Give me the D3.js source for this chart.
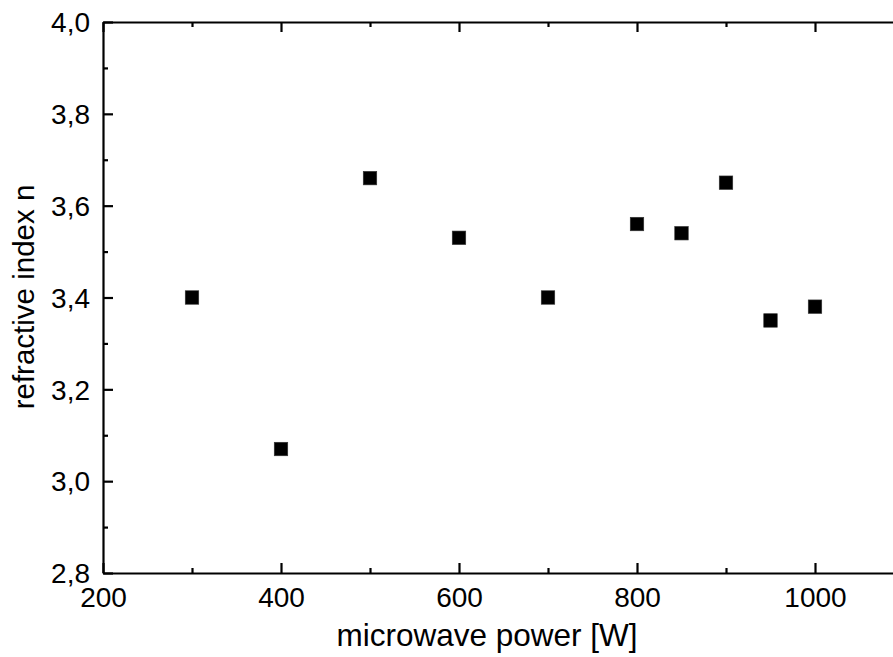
<!DOCTYPE html>
<html>
<head>
<meta charset="utf-8">
<script src="https://cdn.jsdelivr.net/npm/d3@7"></script>
<style>
  body { margin: 0; background: #fff; overflow: hidden; }
  text { font-family: "Liberation Sans", Arial, sans-serif; fill: #000; }
</style>
</head>
<body>
<div id="chart"></div>
<script>
// Data
const power = [300, 400, 500, 600, 700, 800, 850, 900, 950, 1000];
const refIndex = [3.40, 3.07, 3.66, 3.53, 3.40, 3.56, 3.54, 3.65, 3.35, 3.38];
const xTicks = [200, 400, 600, 800, 1000];
const yTicks = [2.8, 3.0, 3.2, 3.4, 3.6, 3.8, 4.0];

const width = 893;
const height = 657;

const svg = d3.select("#chart").append("svg")
    .attr("width", width)
    .attr("height", height);

// plot area (right edge runs past the window, as in the reference)
const plotLeft = 103, plotRight = 904, plotTop = 22, plotBottom = 573;

const x = d3.scaleLinear().domain([200, 1100]).range([plotLeft, plotRight]);
const y = d3.scaleLinear().domain([2.8, 4.0]).range([plotBottom, plotTop]);

const comma = d3.formatLocale({ decimal: ",", thousands: "", grouping: [3], currency: ["", ""] });
const fmtY = comma.format(".1f");

const minorX = d3.range(300, 1100, 200);
const minorY = d3.range(2.9, 4.0, 0.2);

// bottom axis
const gx = svg.append("g").attr("transform", `translate(0,${plotBottom})`)
    .call(d3.axisBottom(x).tickValues(xTicks).tickSizeInner(-10).tickSizeOuter(0).tickFormat(d3.format("d")));
gx.selectAll("text").attr("y", 34).attr("dy", 0).style("font-size", "28px");
svg.append("g").attr("transform", `translate(0,${plotBottom})`)
    .call(d3.axisBottom(x).tickValues(minorX).tickSizeInner(-5).tickSizeOuter(0).tickFormat(""))
    .select(".domain").remove();

// top axis (ticks only)
svg.append("g").attr("transform", `translate(0,${plotTop})`)
    .call(d3.axisTop(x).tickValues(xTicks).tickSizeInner(-10).tickSizeOuter(0).tickFormat(""));
svg.append("g").attr("transform", `translate(0,${plotTop})`)
    .call(d3.axisTop(x).tickValues(minorX).tickSizeInner(-5).tickSizeOuter(0).tickFormat(""))
    .select(".domain").remove();

// left axis
const gy = svg.append("g").attr("transform", `translate(${plotLeft},0)`)
    .call(d3.axisLeft(y).tickValues(yTicks).tickSizeInner(-10).tickSizeOuter(0).tickFormat(fmtY));
gy.selectAll("text").attr("x", -13).attr("dy", "0.35em").style("font-size", "28px");
svg.append("g").attr("transform", `translate(${plotLeft},0)`)
    .call(d3.axisLeft(y).tickValues(minorY).tickSizeInner(-5).tickSizeOuter(0).tickFormat(""))
    .select(".domain").remove();

svg.selectAll(".domain, .tick line").attr("stroke", "#000").attr("stroke-width", 2.2);
svg.selectAll("g").attr("font-family", null).attr("font-size", null);

// markers
const size = 13.5;
svg.append("g")
    .selectAll("rect")
    .data(power)
    .join("rect")
    .attr("x", d => x(d) - size / 2)
    .attr("y", (d, i) => y(refIndex[i]) - size / 2)
    .attr("width", size)
    .attr("height", size)
    .attr("fill", "#000")
    .attr("stroke", "#333")
    .attr("stroke-width", 0.6);

// axis titles
svg.append("text")
    .attr("x", 487)
    .attr("y", 646)
    .attr("text-anchor", "middle")
    .style("font-size", "31.5px")
    .text("microwave power [W]");

svg.append("text")
    .attr("transform", "translate(34,297) rotate(-90)")
    .attr("text-anchor", "middle")
    .style("font-size", "29.5px")
    .text("refractive index n");
</script>
</body>
</html>
